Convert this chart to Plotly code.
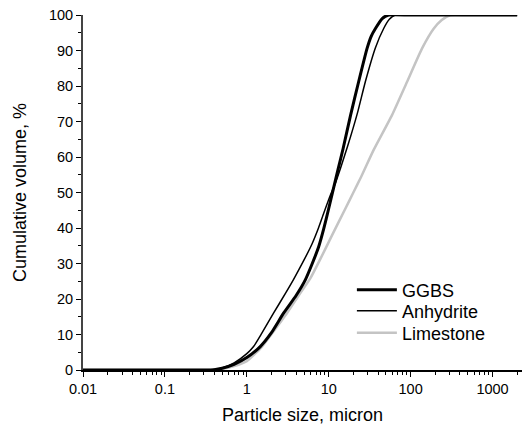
import plotly.graph_objects as go

# GGBS
ggbs_x = [0.01, 0.3, 0.4, 0.5, 0.7, 1, 1.46, 2, 2.81, 4, 5.18, 6.3, 7.54, 8.7, 10, 11.4, 13,
          15, 18.5, 23.2, 29.4, 33, 37.2, 45, 54, 100, 2000]
ggbs_y = [0, 0, 0.1, 0.5, 1.6, 3.5, 6.6, 10.5, 16.0, 21.0, 25.4, 30.0, 34.7, 39.8, 45.5, 51.0,
          56.5, 62.4, 71.8, 81.2, 90.6, 94.0, 96.2, 99.0, 100, 100, 100]

# Anhydrite
anhydrite_x = [0.01, 0.3, 0.4, 0.5, 0.7, 1, 1.21, 1.52, 2.12, 3, 3.7, 5, 6.25, 7.5, 8.67, 10.5,
               12, 14, 17, 22.5, 28, 37.2, 46.9, 55, 65, 100, 2000]
anhydrite_y = [0, 0, 0.15, 0.6, 2.0, 4.6, 6.6, 10.3, 16.0, 21.8, 25.4, 31.0, 35.5, 40.0, 44.1,
               49.3, 52.5, 57.0, 63.0, 72.5, 81.2, 90.8, 96.2, 98.8, 100, 100, 100]

# Limestone
limestone_x = [0.01, 0.3, 0.4, 0.5, 0.7, 1, 1.5, 2.03, 3.09, 4.3, 5.96, 8, 11, 16, 20, 25,
               35.4, 59.3, 90.6, 138, 192, 240, 307, 500, 2000]
limestone_y = [0, 0, 0.05, 0.3, 1.1, 2.5, 6.3, 10.3, 16.0, 21.0, 25.8, 31.5, 38.0, 45.5, 50.0,
               54.5, 62.0, 71.8, 81.2, 90.6, 96.2, 98.6, 100, 100, 100]

x_tickvals = [0.01, 0.1, 1, 10, 100, 1000]
x_ticktext = ["0.01", "0.1", "1", "10", "100", "1000"]
x_minor = [m * 10 ** e for e in range(-2, 4) for m in range(2, 10) if m * 10 ** e <= 2000]

font = "Liberation Sans, Arial, sans-serif"

fig = go.Figure()
fig.add_trace(go.Scatter(x=limestone_x, y=limestone_y, name="Limestone", mode="lines",
                         line=dict(color="#c4c4c4", width=2.5, shape="spline", smoothing=0.5),
                         cliponaxis=False, legend="legend3"))
fig.add_trace(go.Scatter(x=anhydrite_x, y=anhydrite_y, name="Anhydrite", mode="lines",
                         line=dict(color="#000000", width=1.5, shape="spline", smoothing=0.5),
                         cliponaxis=False, legend="legend2"))
fig.add_trace(go.Scatter(x=ggbs_x, y=ggbs_y, name="GGBS", mode="lines",
                         line=dict(color="#000000", width=3, shape="spline", smoothing=0.5),
                         cliponaxis=False, legend="legend"))

leg_common = dict(x=0.6125, xanchor="left", yanchor="middle", font=dict(size=18),
                  bgcolor="rgba(0,0,0,0)", itemwidth=40)

fig.update_layout(
    width=522, height=425,
    margin=dict(l=83, r=0, t=15, b=55),
    plot_bgcolor="white", paper_bgcolor="white",
    font=dict(family=font, size=14.5, color="#000"),
    showlegend=True,
    legend=dict(y=0.2254, **leg_common),
    legend2=dict(y=0.1662, **leg_common),
    legend3=dict(y=0.1042, **leg_common),
)
fig.update_xaxes(
    type="log", range=[-2, 3.36],
    tickvals=x_tickvals, ticktext=x_ticktext,
    ticks="outside", ticklen=5, tickwidth=1, tickcolor="#000",
    minor=dict(tickvals=x_minor, ticks="outside", ticklen=3, tickcolor="#000"),
    showline=True, linecolor="#000", linewidth=1.5,
    showgrid=False, zeroline=False,
    title=dict(text="Particle size, micron", font=dict(size=18), standoff=14),
)
fig.update_yaxes(
    range=[0, 100], dtick=10,
    ticks="outside", ticklen=5, tickwidth=1, tickcolor="#000",
    minor=dict(dtick=5, ticks="outside", ticklen=3, tickcolor="#000"),
    showline=True, linecolor="#444", linewidth=2,
    showgrid=False, zeroline=False,
    title=dict(text="Cumulative volume, %", font=dict(size=18), standoff=18),
)

fig.write_html("out.html", config={"displayModeBar": False},
               post_script="document.body.style.margin='0';")
